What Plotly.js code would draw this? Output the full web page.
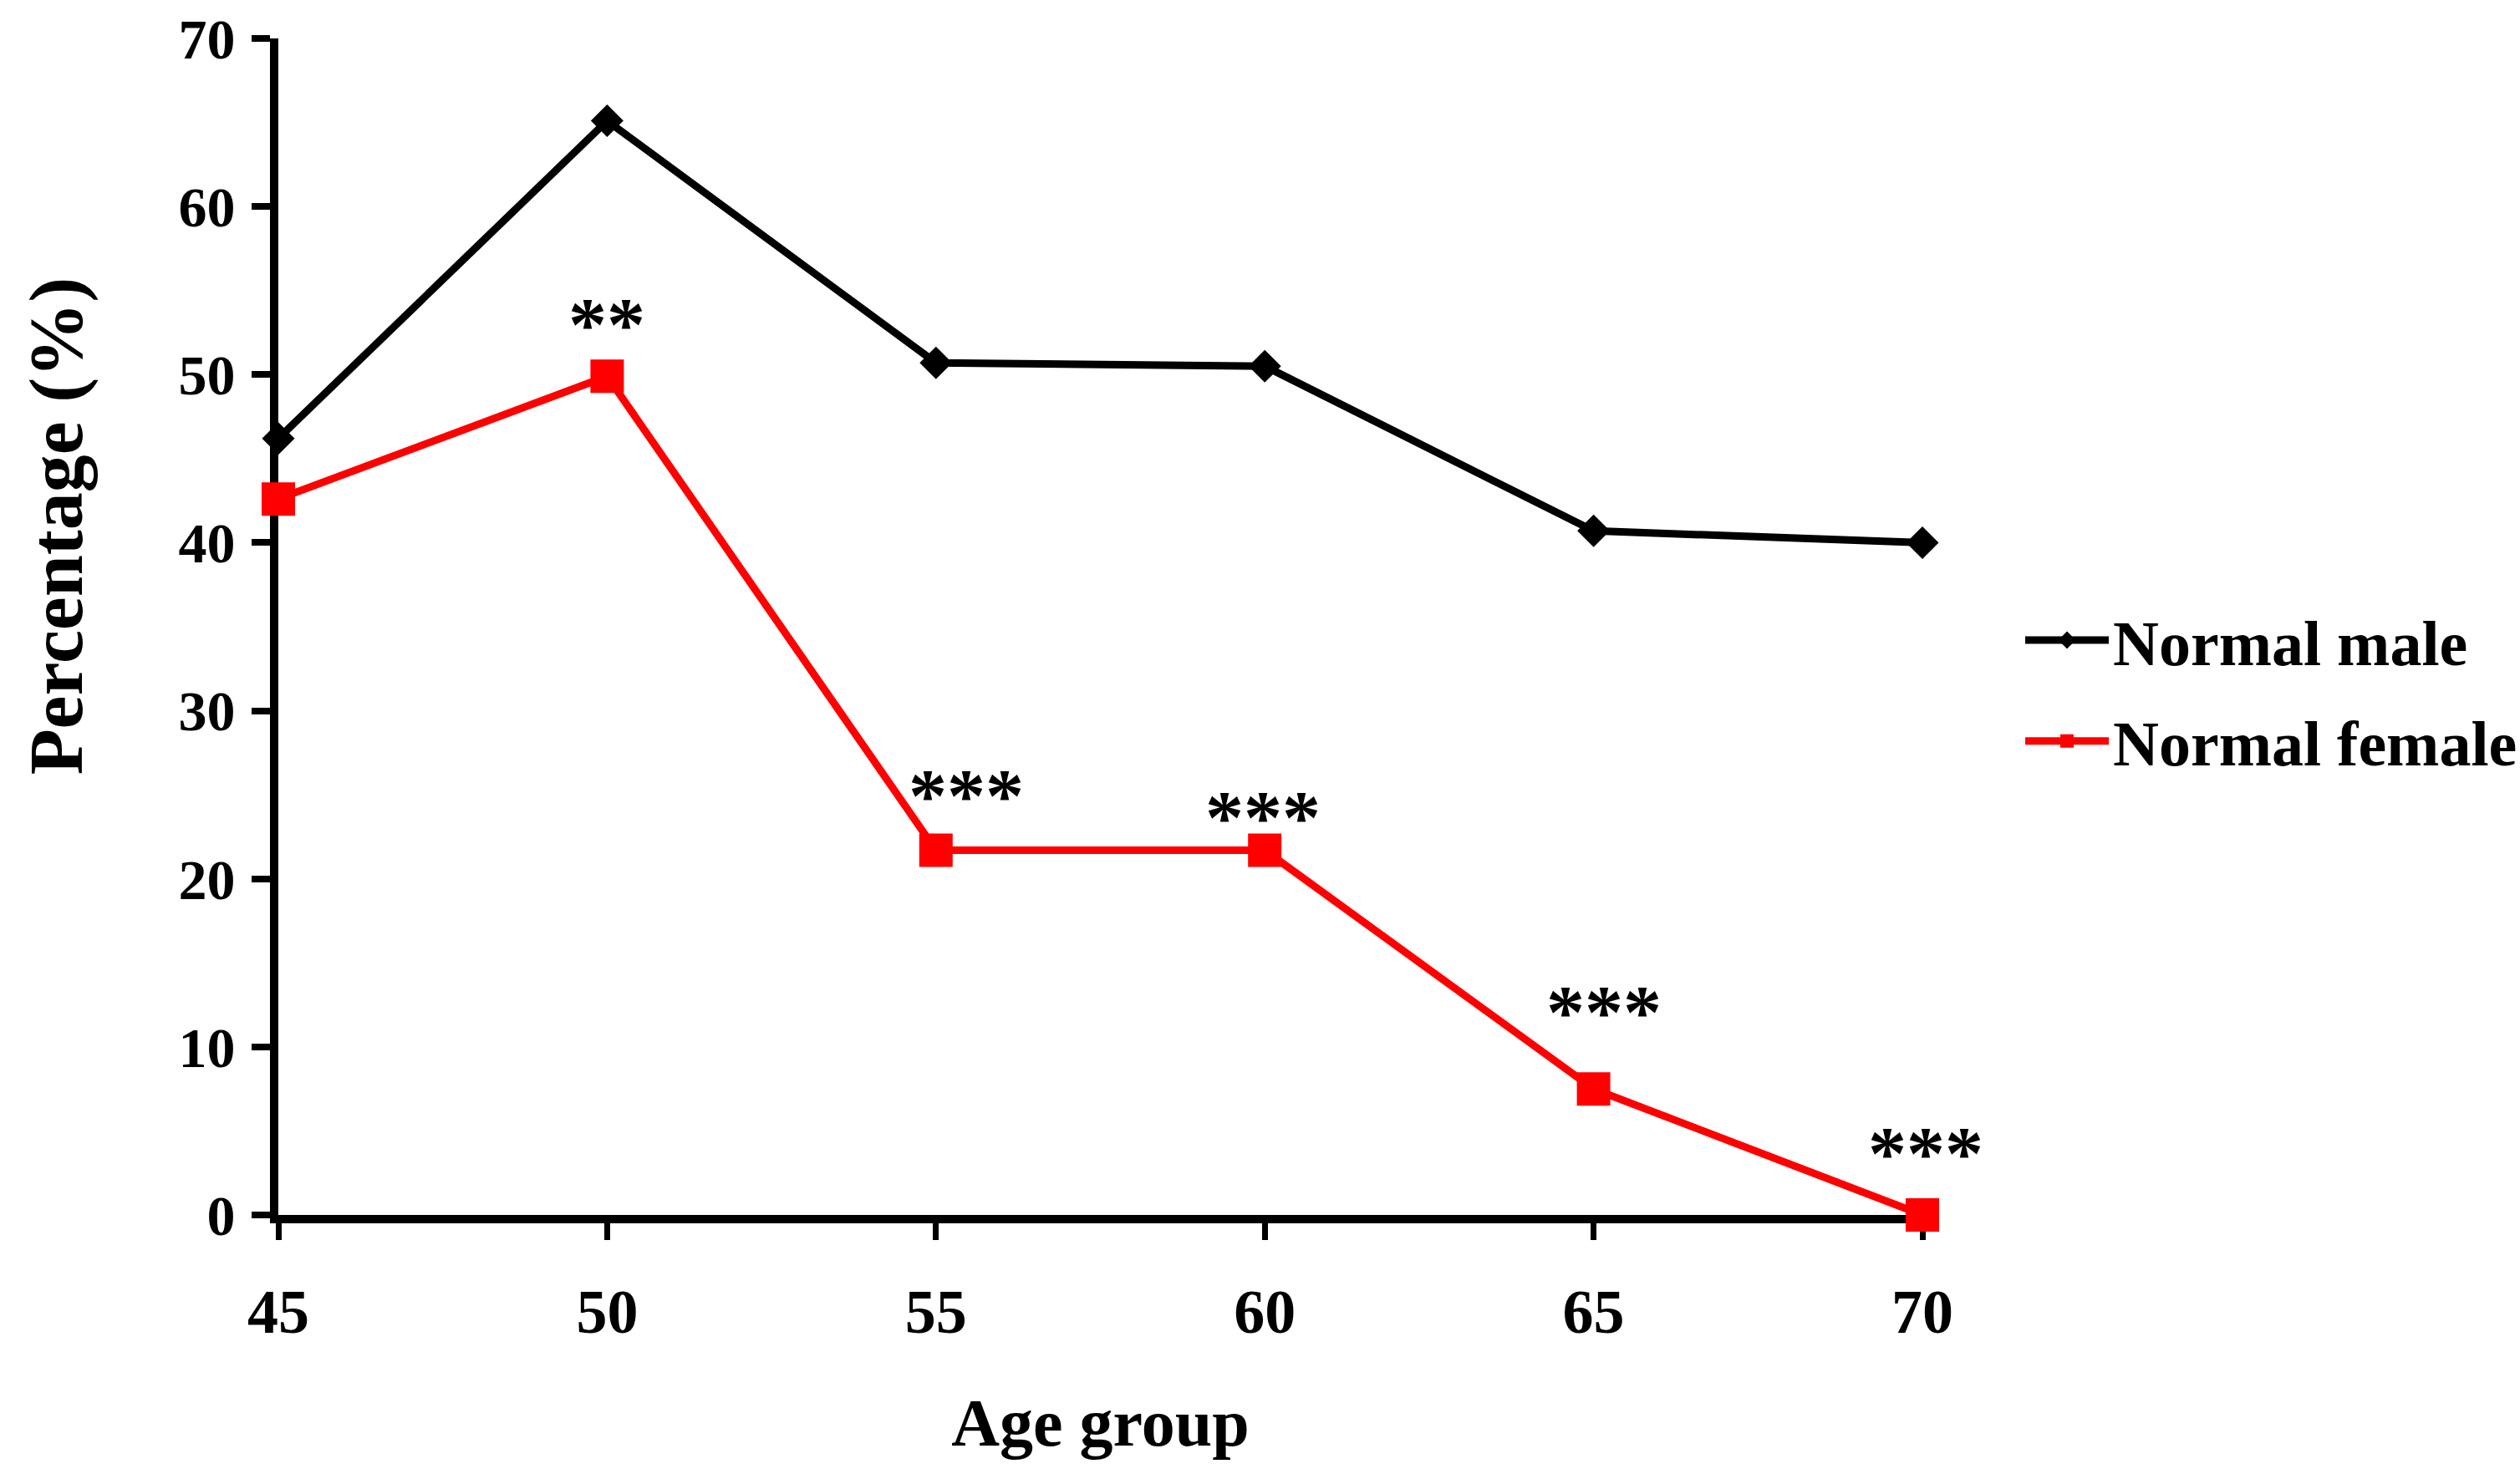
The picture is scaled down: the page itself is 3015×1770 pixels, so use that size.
<!DOCTYPE html>
<html>
<head>
<meta charset="utf-8">
<script src="https://cdn.plot.ly/plotly-3.0.1.min.js"></script>
<style>html,body{margin:0;padding:0;background:#fff;}#chart{width:3015px;height:1770px;}</style>
</head>
<body>
<div id="chart"></div>
<script>
// ---- data ----
const ageGroups = [45, 50, 55, 60, 65, 70];
const normalMale = [46.2, 65.1, 50.7, 50.5, 40.7, 40.0];
const normalFemale = [42.6, 49.9, 21.7, 21.7, 7.5, 0.0];
const significance = ["", "**", "***", "***", "***", "***"];
const yTicks = [0, 10, 20, 30, 40, 50, 60, 70];

// ---- styling ----
const FONT = "Liberation Serif, Times New Roman, serif";
const starOffsets = [[0,0],[0,62],[36,66],[-2,40],[12,92],[4,74]]; // pixel shifts [x,y]

const traces = [
  {
    x: ageGroups, y: normalMale, name: "Normal male", legendgroup: "m",
    type: "scatter", mode: "lines+markers", cliponaxis: false,
    line: {color: "#000000", width: 9},
    marker: {symbol: "diamond", size: 30, color: "#000000"}
  },
  {
    x: ageGroups, y: normalFemale, name: "Normal female", legendgroup: "f",
    type: "scatter", mode: "lines+markers", cliponaxis: false,
    line: {color: "#ff0000", width: 9},
    marker: {symbol: "square", size: 40, color: "#ff0000"}
  }
];

const annotations = [];
significance.forEach((s, i) => {
  if (!s) return;
  annotations.push({
    x: ageGroups[i], y: normalFemale[i], xref: "x", yref: "y",
    text: s, showarrow: false, xanchor: "center", yanchor: "middle",
    xshift: starOffsets[i][0], yshift: starOffsets[i][1],
    font: {family: FONT, size: 92, color: "#000", weight: "bold"}
  });
});
annotations.push({
  text: "Percentage (%)", xref: "paper", yref: "paper",
  x: -0.135, y: 0.586, xanchor: "center", yanchor: "middle",
  textangle: -90, showarrow: false,
  font: {family: FONT, size: 90, color: "#000", weight: "bold"}
});

const layout = {
  width: 3015, height: 1770,
  margin: {l: 333, r: 715, t: 46, b: 316},
  paper_bgcolor: "#fff", plot_bgcolor: "#fff",
  font: {family: FONT, color: "#000", weight: "bold"},
  showlegend: true,
  legend: {
    xref: "container", yref: "container",
    x: 0.802, y: 0.533, xanchor: "left", yanchor: "middle",
    font: {family: FONT, size: 76, color: "#000", weight: "bold"},
    itemwidth: 100, tracegroupgap: 19, bgcolor: "rgba(0,0,0,0)"
  },
  xaxis: {
    range: [45, 70], tickmode: "array", tickvals: ageGroups,
    showgrid: false, zeroline: false,
    showline: true, linecolor: "#000", linewidth: 10,
    ticks: "outside", ticklen: 20, tickwidth: 7, tickcolor: "#000",
    ticklabelstandoff: 22,
    tickfont: {family: FONT, size: 74, color: "#000", weight: "bold"},
    layer: "below traces",
    title: {text: "Age group", standoff: 68,
            font: {family: FONT, size: 80, color: "#000", weight: "bold"}}
  },
  yaxis: {
    range: [0, 70], tickmode: "array", tickvals: yTicks,
    showgrid: false, zeroline: false,
    showline: true, linecolor: "#000", linewidth: 10,
    ticks: "outside", ticklen: 22, tickwidth: 8, tickcolor: "#000",
    ticklabelstandoff: 6,
    tickfont: {family: FONT, size: 68, color: "#000", weight: "bold"},
    layer: "below traces"
  },
  annotations: annotations
};

Plotly.newPlot("chart", traces, layout, {staticPlot: true});
</script>
</body>
</html>
